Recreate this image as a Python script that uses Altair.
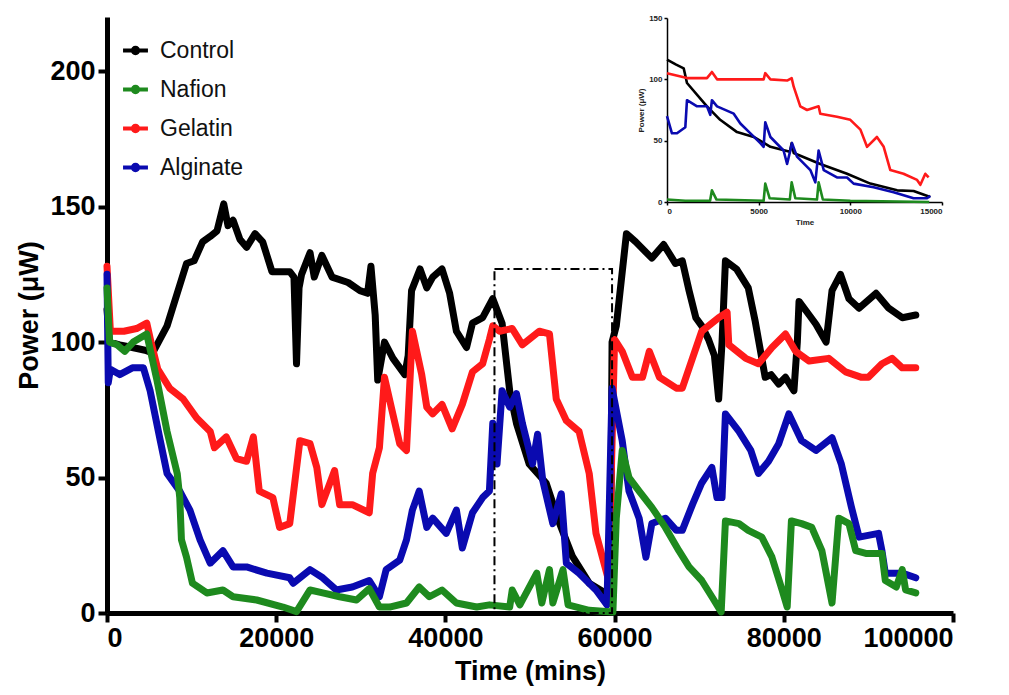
import altair as alt
import pandas as pd

# ---------------- main chart data ----------------
series_names = ["Control", "Nafion", "Gelatin", "Alginate"]
series_colors = ["#000000", "#1e8a1e", "#ff1a1a", "#0a0ab0"]

control_t = [0, 300, 1500, 3000, 4500, 5400, 7100, 8200, 9400, 10300, 11300, 12200, 13000, 13800, 14300, 14900,
             15700, 16500, 17500, 18400, 19500, 21600, 22100, 22400, 22700, 23000, 24000, 24500, 25400, 26600,
             28500, 29900, 30800, 31200, 31700, 32000, 32800, 33800, 35200, 35600, 36000, 37000, 37800, 38500,
             39600, 40500, 41300, 42500, 43200, 44400, 45600, 46700, 47600, 48400, 49900, 51900, 53500, 55000,
             57000, 59100, 59500, 59700, 60200, 61400, 62500, 64400, 65800, 67200, 68000, 68800, 69600, 70300,
             71100, 71800, 72300, 72700, 73100, 74400, 75800, 76600, 77800, 78500, 79400, 80200, 81200, 81600,
             81800, 83000, 83800, 85000, 85700, 86700, 87700, 88900, 90900, 92400, 94000, 95600]
control_p = [112, 100, 99, 98, 97, 96, 106, 117, 129, 130, 137, 139, 141, 151, 143, 145,
             138, 135, 140, 137, 126, 126, 124, 92, 120, 125, 133, 124, 132, 124,
             122, 119, 118, 128, 110, 86, 100, 94, 88, 95, 119, 127, 120, 124,
             127, 118, 104, 98, 107, 109, 116, 107, 82, 70, 55, 48, 33, 21,
             11, 7, 5, 100, 106, 140, 137, 131, 136, 129, 130, 119, 109, 106,
             101, 95, 79, 100, 130, 127, 120, 108, 87, 88, 84.5, 87, 82, 100,
             115, 110, 106.6, 100, 119, 125, 116, 112.5, 118, 112.5, 109, 110]

gelatin_t = [0, 400, 2000, 3500, 4700, 5200, 6000, 7400, 9000, 10600, 12200, 12700, 14100, 15300, 16500, 17300,
             18000, 19600, 20400, 21600, 22800, 24000, 24800, 25400, 26900, 27500, 29000, 31000, 31400, 32200,
             32800, 33600, 34600, 35400, 36100, 37200, 37800, 38500, 39600, 40800, 42000, 43200, 44400, 45200,
             45600, 46400, 47900, 49100, 51100, 52300, 53100, 54300, 55800, 57000, 57800, 59300, 60000, 60900,
             62100, 63300, 64100, 65300, 67300, 68000, 69200, 70300, 72300, 73300, 73500, 75500, 77000, 78600,
             80200, 81400, 83000, 85300, 87300, 89200, 90000, 91600, 92800, 94000, 95600]
gelatin_p = [128, 104, 104, 105, 107, 100, 90, 83, 79, 72, 67, 61, 65, 57, 56, 65,
             45, 42.6, 31.6, 33, 63.6, 62.5, 53.7, 40, 52.6, 40, 40, 37, 51.5, 61,
             87, 76, 62.5, 60, 104, 88, 76, 73.5, 77, 68, 77, 89, 92, 101,
             106, 104, 105, 99, 104, 103, 79, 71, 67, 51.5, 29.4, 12, 101, 96.6,
             87, 87, 96.6, 87, 83, 83, 94, 104, 109, 111, 99, 94, 92, 98,
             103, 96.6, 93, 94, 89, 87, 87, 92, 94, 90.5, 90.5]

alginate_t = [0, 150, 400, 1500, 3000, 4300, 5100, 6300, 7100, 8600, 9800, 11000, 12200, 13700, 14900, 16500,
              18900, 21600, 22000, 24000, 25500, 27100, 29000, 31000, 32200, 33000, 34600, 35400, 36100, 36900,
              37800, 38500, 40100, 41300, 42000, 43200, 44400, 45200, 45600, 46100, 46700, 47600, 48400, 49100,
              50300, 50900, 51500, 52700, 53700, 54300, 55800, 57800, 59100, 59700, 60900, 61700, 62900, 63700,
              64400, 66000, 67300, 68000, 69200, 70300, 71500, 72100, 72700, 73100, 74700, 76100, 77000, 78200,
              79400, 80600, 82100, 83800, 85700, 86800, 88000, 88900, 91200, 91600, 92000, 94000, 95600]
alginate_p = [125, 85, 90, 88, 90.5, 90.5, 82, 63.6, 51.5, 45, 38, 27, 18.4, 23, 17, 17,
              14.7, 13, 11, 16, 13, 8.5, 9.6, 12, 6, 16, 19.5, 27, 38, 45,
              31.6, 35, 29.4, 38, 24, 37, 42.6, 45, 70, 55, 82, 76, 81, 70,
              55, 66, 49, 33, 44, 18.4, 14.7, 8.5, 3, 83, 63.6, 45, 35, 20.6,
              33, 35, 30.5, 30.5, 40, 48, 53.7, 42.6, 42.6, 73.5, 67, 60, 51.5, 56,
              62.5, 73.5, 63.6, 60, 64.7, 55, 39, 28, 29.4, 23, 14.7, 14.7, 13]

nafion_t = [0, 300, 1200, 2100, 3100, 4700, 5900, 7100, 8300, 8600, 8800, 9400, 10100, 11800, 13700, 14900,
            17700, 20800, 22400, 24000, 25500, 27500, 29500, 31000, 32200, 33400, 35400, 36900, 38100, 39600,
            41300, 43700, 45200, 47600, 47900, 48800, 50800, 51400, 52300, 52700, 53900, 54500, 57000, 59800,
            60200, 60900, 61700, 62900, 64400, 66000, 67600, 68800, 70300, 71500, 72600, 73100, 74700, 75800,
            77400, 78600, 79800, 80400, 80900, 82100, 83300, 84500, 85700, 86500, 87700, 88500, 89700, 91600,
            92000, 93300, 94000, 94400, 95600]
nafion_p = [120, 100, 99, 96.6, 100, 103, 86, 67, 51.5, 42.6, 27, 20.6, 11, 7.4, 8.5, 6,
            4.8, 2.2, 0.5, 8.5, 7.4, 6, 4.8, 9, 2.2, 2.2, 3.7, 9.6, 6, 8.5,
            3.7, 2.2, 3, 2.2, 8.5, 3, 14.7, 3.7, 16, 3.7, 16, 3, 1, 0.4,
            35, 60, 50, 45, 39, 31.6, 23, 17, 12, 6, 0.4, 34, 33, 30.5,
            28, 20.6, 8.5, 2.2, 34, 33, 31.6, 23, 3.7, 35, 33, 23, 22, 22,
            12, 9.6, 16, 8.5, 7.4]

# dashed box (time range, power range)
box_t = [45800, 59700]
box_p = [0, 127]

# ---------------- inset data ----------------
in_control_t = [0, 500, 910, 1090, 2180, 2900, 3820, 4730, 5640, 6700, 6800, 6910, 8360, 9820, 11090, 12550, 13450, 14360]
in_control_p = [116, 112, 109, 97, 78, 67, 57, 53, 45, 41, 48, 40, 31, 23, 15, 9.5, 9, 4]

in_gelatin_t = [0, 1090, 2180, 2450, 2730, 3820, 5270, 5360, 5640, 6550, 6800, 6910, 7270, 7640, 8270, 8360,
                9270, 10000, 10550, 10910, 11450, 11820, 12180, 12900, 13640, 13820, 14090, 14270]
in_gelatin_p = [105, 101, 101, 106, 100, 100, 100, 105, 100, 99, 101, 94, 78, 75, 78, 72,
                69.5, 67, 59, 45, 53, 45, 26, 23, 18, 14, 23, 20]

in_alginate_t = [0, 270, 545, 1000, 1090, 1640, 2180, 2360, 2450, 2730, 3640, 4000, 4550, 5090, 5270, 5360,
                 5640, 6360, 6550, 6820, 7090, 7820, 8090, 8270, 8550, 9270, 9820, 10180, 11270, 12360, 13450,
                 14180, 14360]
in_alginate_p = [70, 56, 56, 61, 83, 78, 78, 71, 83, 78, 72, 64, 56, 48, 45, 65,
                 53, 42, 31, 48, 37, 26, 16, 42, 26, 20, 20, 15, 12, 8, 3,
                 3, 5]

in_nafion_t = [0, 1000, 2350, 2450, 2700, 5270, 5360, 5600, 6700, 6800, 7000, 8180, 8270, 8500, 10000, 14300]
in_nafion_p = [2, 1, 1, 9.5, 2, 1, 15, 3, 2, 16, 3, 2, 16, 2, 1, 0]

FONT = "Liberation Sans"


def frame(name, t, p):
    return pd.DataFrame({"series": name, "time": t, "power": p})


main_df = pd.concat([
    frame("Control", control_t, control_p),
    frame("Nafion", nafion_t, nafion_p),
    frame("Gelatin", gelatin_t, gelatin_p),
    frame("Alginate", alginate_t, alginate_p),
], ignore_index=True)

inset_df = pd.concat([
    frame("Control", in_control_t, in_control_p),
    frame("Nafion", in_nafion_t, in_nafion_p),
    frame("Gelatin", in_gelatin_t, in_gelatin_p),
    frame("Alginate", in_alginate_t, in_alginate_p),
], ignore_index=True)

box_df = pd.DataFrame({"t0": [box_t[0]], "t1": [box_t[1]], "p0": [box_p[0]], "p1": [box_p[1]]})

W, H = 846, 596

x_main = alt.X("time:Q", scale=alt.Scale(domain=[0, 100000], nice=False),
               axis=alt.Axis(values=[0, 20000, 40000, 60000, 80000, 100000], format="d",
                             title="Time (mins)", grid=False, orient="bottom"))
y_main = alt.Y("power:Q", scale=alt.Scale(domain=[0, 220], nice=False),
               axis=alt.Axis(values=[0, 50, 100, 150, 200], title="Power (μW)", grid=False, orient="left"))

legend_symbol = "M-1,0H1M-0.22,0A0.22,0.22 0 1,1 0.22,0A0.22,0.22 0 1,1 -0.22,0"
color_main = alt.Color("series:N",
                       scale=alt.Scale(domain=series_names, range=series_colors),
                       legend=alt.Legend(orient="none", legendX=14, legendY=19, title=None,
                                         symbolType=legend_symbol, symbolSize=620,
                                         symbolStrokeWidth=4, labelFontSize=23, labelFont=FONT,
                                         labelColor="#111111", rowPadding=12, labelOffset=10))

layers = []
for name in ["Control", "Gelatin", "Alginate", "Nafion"]:
    layers.append(
        alt.Chart(main_df).transform_filter(alt.datum.series == name)
        .mark_line(strokeWidth=7, strokeJoin="round", strokeCap="round")
        .encode(x=x_main, y=y_main, color=color_main, order="time:Q")
    )

box = alt.Chart(box_df).mark_rect(filled=False, stroke="black", strokeWidth=2,
                                  strokeDash=[9, 4, 2, 4]).encode(
    x=alt.X("t0:Q", scale=alt.Scale(domain=[0, 100000], nice=False)),
    x2="t1:Q",
    y=alt.Y("p0:Q", scale=alt.Scale(domain=[0, 220], nice=False)),
    y2="p1:Q",
)

main = alt.layer(*layers, box)

inset_axis_style = dict(grid=False, labelFontSize=8, titleFontSize=8, labelFont=FONT, titleFont=FONT,
                        labelFontWeight="bold", titleFontWeight="bold", domainWidth=1.5, tickWidth=1.5,
                        tickSize=3, labelPadding=2, domainColor="black", tickColor="black",
                        labelColor="#222222", titleColor="#222222")

inset = alt.Chart(inset_df).mark_line(strokeWidth=2.6, strokeJoin="round").encode(
    x=alt.X("time:Q", scale=alt.Scale(domain=[0, 15000], range=[560, 835], nice=False),
            axis=alt.Axis(values=[0, 5000, 10000, 15000], format="d", title="Time", orient="bottom",
                          offset=-411, titlePadding=3, **inset_axis_style)),
    y=alt.Y("power:Q", scale=alt.Scale(domain=[0, 150], range=[185, 1], nice=False),
            axis=alt.Axis(values=[0, 50, 100, 150], title="Power (μW)", orient="left",
                          offset=-560, titlePadding=3, **inset_axis_style)),
    color=alt.Color("series:N", scale=alt.Scale(domain=series_names, range=series_colors), legend=None),
    order="time:Q",
)

chart = alt.layer(main, inset).resolve_scale(x="independent", y="independent").properties(
    width=W, height=H,
    autosize=alt.AutoSizeParams(type="none"),
    padding={"left": 99, "top": 9, "right": 40, "bottom": 74},
).configure_view(stroke=None).configure_axis(
    labelFont=FONT, titleFont=FONT, labelFontSize=27, titleFontSize=27,
    labelFontWeight="bold", titleFontWeight="bold", labelColor="black", titleColor="black",
    domainColor="black", tickColor="black", domainWidth=5, tickWidth=4, tickSize=9,
    labelPadding=3,
).configure_axisX(titlePadding=7).configure_axisY(titlePadding=6)

chart.save("out.html", embed_options={"renderer": "svg", "actions": False})
